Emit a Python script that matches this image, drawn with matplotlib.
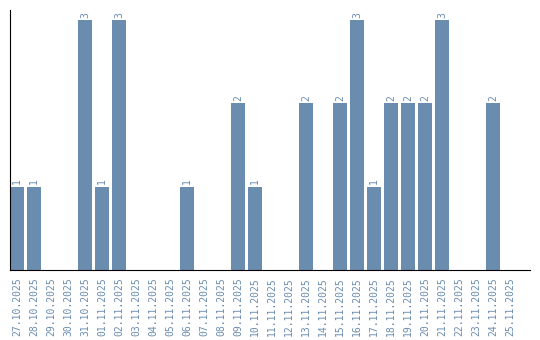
import matplotlib
matplotlib.use("Agg")
import matplotlib.pyplot as plt

dates = ["27.10.2025", "28.10.2025", "29.10.2025", "30.10.2025", "31.10.2025",
         "01.11.2025", "02.11.2025", "03.11.2025", "04.11.2025", "05.11.2025",
         "06.11.2025", "07.11.2025", "08.11.2025", "09.11.2025", "10.11.2025",
         "11.11.2025", "12.11.2025", "13.11.2025", "14.11.2025", "15.11.2025",
         "16.11.2025", "17.11.2025", "18.11.2025", "19.11.2025", "20.11.2025",
         "21.11.2025", "22.11.2025", "23.11.2025", "24.11.2025", "25.11.2025"]
counts = [1, 1, 0, 0, 3, 1, 3, 0, 0, 0, 1, 0, 0, 2, 1,
          0, 0, 2, 0, 2, 3, 1, 2, 2, 2, 3, 0, 0, 2, 0]

color = "#6a8caf"
w = 0.82

fig = plt.figure(figsize=(5.4, 3.4), dpi=100)
ax = fig.add_axes([10 / 540, 70 / 340, 520 / 540, 260 / 340])

x = list(range(len(dates)))
ax.bar(x, counts, width=w, color=color)
for i, c in enumerate(counts):
    if c > 0:
        ax.text(i, c + 0.03, str(c), rotation=90, ha="center", va="bottom",
                fontsize=7, color=color, family="DejaVu Sans Mono")

ax.set_xlim(-w / 2, 30.18)
ax.set_ylim(0, 3.12)
ax.set_xticks(x)
ax.set_xticklabels(dates, rotation=90, fontsize=7, color=color,
                   family="DejaVu Sans Mono")
ax.tick_params(axis="x", length=0, pad=5)
ax.set_yticks([])
for s in ["top", "right"]:
    ax.spines[s].set_visible(False)
ax.spines["left"].set_color("black")
ax.spines["bottom"].set_color("black")

fig.savefig("out.png", dpi=100)
